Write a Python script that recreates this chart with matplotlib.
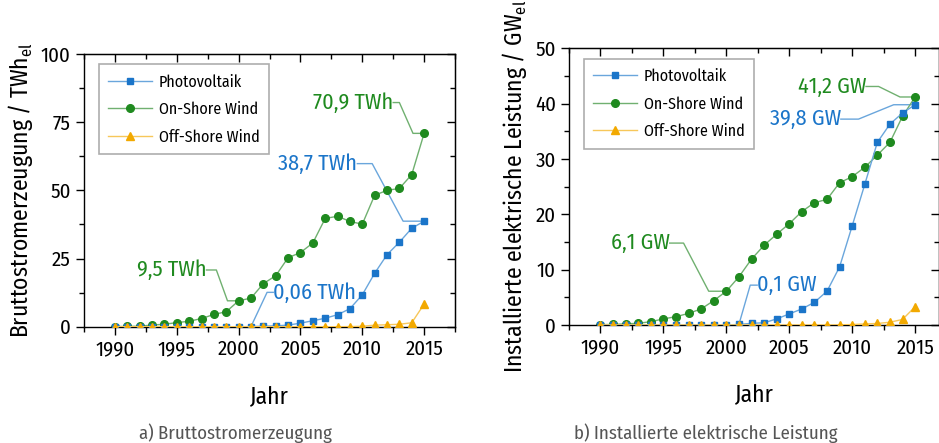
import matplotlib
matplotlib.use("Agg")
import matplotlib.pyplot as plt
from matplotlib.ticker import MultipleLocator

plt.rcParams['font.family'] = ['Fira Sans Condensed', 'DejaVu Sans']
plt.rcParams['mathtext.fontset'] = 'custom'
plt.rcParams['mathtext.rm'] = 'Fira Sans Condensed'

# Daten
jahre = list(range(1990, 2016))

# a) Bruttostromerzeugung in TWh
pv_twh = [0, 0, 0, 0, 0, 0, 0, 0, 0, 0, 0, 0.06, 0.2, 0.3, 0.6, 1.3, 2.2, 3.1, 4.4, 6.6,
          11.7, 19.6, 26.4, 31.0, 36.1, 38.7]
onshore_twh = [0.07, 0.1, 0.2, 0.6, 0.9, 1.5, 2.0, 3.0, 4.5, 5.5, 9.5, 10.5, 15.8, 18.7,
               25.3, 27.2, 30.7, 39.7, 40.5, 38.6, 37.6, 48.2, 50.0, 50.7, 55.8, 70.9]
offshore_twh = [0, 0, 0, 0, 0, 0, 0, 0, 0, 0, 0, 0, 0, 0, 0, 0, 0, 0, 0, 0.04,
                0.17, 0.57, 0.72, 0.9, 1.45, 8.3]

# b) Installierte Leistung in GW
pv_gw = [0, 0, 0, 0, 0, 0, 0, 0, 0, 0, 0, 0.1, 0.3, 0.4, 1.1, 2.0, 2.9, 4.1, 6.1, 10.5,
         17.9, 25.4, 33.0, 36.3, 38.3, 39.8]
onshore_gw = [0.06, 0.1, 0.2, 0.3, 0.6, 1.1, 1.5, 2.1, 2.9, 4.4, 6.1, 8.7, 11.9, 14.4,
              16.4, 18.3, 20.5, 22.1, 22.7, 25.7, 26.8, 28.5, 30.7, 33.0, 37.7, 41.2]
offshore_gw = [0, 0, 0, 0, 0, 0, 0, 0, 0, 0, 0, 0, 0, 0, 0, 0, 0, 0, 0, 0.03,
               0.08, 0.19, 0.27, 0.5, 1.0, 3.3]

blau, blau_l = '#1b75c9', '#6aa6dc'
gruen, gruen_l = '#1f8a1f', '#70b070'
orange, orange_l = '#f2a900', '#f7c75a'

fig = plt.figure(figsize=(9.39, 4.43), dpi=100)
ax1 = fig.add_axes([0.0895, 0.2625, 0.3951, 0.6156])
ax2 = fig.add_axes([0.606, 0.2664, 0.394, 0.6246])


def zeichne(ax, pv, on, off, xmaj, ymaj):
    ax.plot(jahre, pv, color=blau_l, lw=1, marker='s', ms=4.5, mfc=blau, mec=blau,
            label='Photovoltaik', zorder=3)
    ax.plot(jahre, on, color=gruen_l, lw=1, marker='o', ms=5.5, mfc=gruen, mec=gruen,
            label='On-Shore Wind', zorder=2)
    ax.plot(jahre, off, color=orange_l, lw=1, marker='^', ms=6, mfc=orange, mec=orange,
            label='Off-Shore Wind', zorder=4)
    leg = ax.legend(loc='upper left', fontsize=11.5, frameon=True, fancybox=False,
                    borderpad=0.6, labelspacing=0.72, handlelength=2.7, handletextpad=0.45,
                    bbox_to_anchor=(0.04, 0.962), borderaxespad=0)
    leg.get_frame().set_edgecolor('#999999')
    leg.get_frame().set_linewidth(1.2)
    leg.set_zorder(1)
    ax.xaxis.set_major_locator(MultipleLocator(xmaj))
    ax.xaxis.set_minor_locator(MultipleLocator(xmaj / 2))
    ax.yaxis.set_major_locator(MultipleLocator(ymaj))
    ax.yaxis.set_minor_locator(MultipleLocator(ymaj / 2))
    ax.tick_params(which='both', direction='out', labelsize=15)
    ax.tick_params(which='major', length=6, width=1)
    ax.tick_params(which='minor', length=3.5, width=1)
    # Striche oben und rechts nach innen
    oben = ax.secondary_xaxis('top')
    oben.xaxis.set_major_locator(MultipleLocator(xmaj))
    oben.xaxis.set_minor_locator(MultipleLocator(xmaj / 2))
    oben.tick_params(which='both', direction='in', labeltop=False, width=1)
    oben.tick_params(which='major', length=6)
    oben.tick_params(which='minor', length=3.5)
    rechts = ax.secondary_yaxis('right')
    rechts.yaxis.set_major_locator(MultipleLocator(ymaj))
    rechts.yaxis.set_minor_locator(MultipleLocator(ymaj / 2))
    rechts.tick_params(which='both', direction='in', labelright=False, width=1)
    rechts.tick_params(which='major', length=6)
    rechts.tick_params(which='minor', length=3.5)
    for s in ax.spines.values():
        s.set_linewidth(1)
    ax.set_xlabel('Jahr', fontsize=17, labelpad=18)


def beschriftung(ax, text, farbe, linie, pts, ha):
    xs = [p[0] for p in pts]
    ys = [p[1] for p in pts]
    ax.plot(xs, ys, color=linie, lw=1, zorder=1.5)
    ax.text(pts[0][0], pts[0][1], text, color=farbe, fontsize=16, ha=ha, va='center',
            zorder=5)


# a)
zeichne(ax1, pv_twh, onshore_twh, offshore_twh, 5, 25)
ax1.set_xlim(1987.5, 2017.5)
ax1.set_ylim(0, 100)
ax1.set_ylabel(r'Bruttostromerzeugung / TWh$_{\mathrm{el}}$', fontsize=17, labelpad=4)
beschriftung(ax1, '70,9 TWh', gruen, gruen_l,
             [(2012.5, 82.2), (2013.0, 82.2), (2014.1, 70.9), (2015, 70.9)], 'right')
beschriftung(ax1, '38,7 TWh', blau, blau_l,
             [(2009.6, 59.8), (2010.8, 59.8), (2013.3, 38.7), (2015, 38.7)], 'right')
beschriftung(ax1, '9,5 TWh', gruen, gruen_l,
             [(1997.4, 20.8), (1998.2, 20.8), (1999.1, 9.5), (2000, 9.5)], 'right')
beschriftung(ax1, '0,06 TWh', blau, blau_l,
             [(2002.8, 12.6), (2002.3, 12.6), (2001, 0.06)], 'left')

# b)
zeichne(ax2, pv_gw, onshore_gw, offshore_gw, 5, 10)
ax2.set_xlim(1987.5, 2016.9)
ax2.set_ylim(0, 50)
ax2.set_ylabel(r'Installierte elektrische Leistung / GW$_{\mathrm{el}}$', fontsize=17, labelpad=4)
beschriftung(ax2, '41,2 GW', gruen, gruen_l,
             [(2011.1, 43.1), (2012.1, 43.1), (2013.8, 41.2), (2015, 41.2)], 'right')
beschriftung(ax2, '39,8 GW', blau, blau_l,
             [(2009.1, 37.2), (2010.5, 37.2), (2013.3, 39.8), (2015, 39.8)], 'right')
beschriftung(ax2, '6,1 GW', gruen, gruen_l,
             [(1995.5, 14.8), (1996.6, 14.8), (1998.6, 6.1), (2000, 6.1)], 'right')
beschriftung(ax2, '0,1 GW', blau, blau_l,
             [(2002.45, 7.2), (2001.9, 7.2), (2001, 0.1)], 'left')

fig.text(0.2505, 0.01, 'a) Bruttostromerzeugung', fontsize=13.5, color='#555555', ha='center')
fig.text(0.752, 0.01, 'b) Installierte elektrische Leistung', fontsize=13.5, color='#555555', ha='center')

fig.savefig('out.png', dpi=100)
